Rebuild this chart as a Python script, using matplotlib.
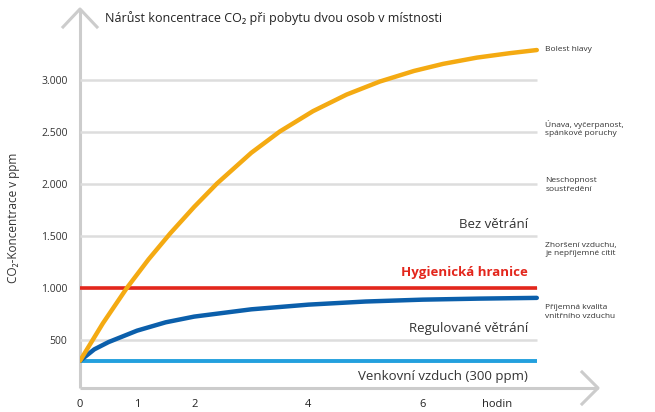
import matplotlib
matplotlib.use('Agg')
import matplotlib.pyplot as plt

plt.rcParams['font.family'] = ['Open Sans', 'DejaVu Sans']

# ── Data ─────────────────────────────────────────────────────────────────────
t_bez = [0, 0.4, 0.82, 1.2, 1.58, 2.0, 2.4, 3.0, 3.5, 4.08, 4.67, 5.25, 5.85, 6.36, 6.95, 7.53, 8.0]
c_bez = [300, 660, 1000, 1275, 1525, 1780, 2005, 2300, 2505, 2700, 2860, 2985, 3087, 3155, 3215, 3258, 3288]

t_reg = [0, 0.25, 0.5, 1.0, 1.5, 2.0, 3.0, 4.0, 5.0, 6.0, 7.0, 8.0]
c_reg = [300, 410, 480, 590, 670, 725, 795, 840, 870, 888, 898, 905]

t_range = [0, 8]
hyg_limit = 1000
outdoor = 300

yticks = [500, 1000, 1500, 2000, 2500, 3000]
ytick_labels = ['500', '1.000', '1.500', '2.000', '2.500', '3.000']
xticks = [0, 1, 2, 4, 6, 7.3]
xtick_labels = ['0', '1', '2', '4', '6', 'hodin']

effects = ['Bolest hlavy',
           'Únava, vyčerpanost,\nspánkové poruchy',
           'Neschopnost\nsoustředění',
           'Zhoršení vzduchu,\nje nepříjemné cítit',
           'Příjemná kvalita\nvnitřního vzduchu']
effect_levels = [3290, 2530, 1990, 1370, 770]

# ── Figure ───────────────────────────────────────────────────────────────────
fig = plt.figure(figsize=(6.55, 4.12), dpi=100)

# decorative axis lines with chevron arrows (pixel coordinates)
deco = fig.add_axes([0, 0, 1, 1], zorder=0)
deco.set_xlim(0, 655)
deco.set_ylim(412, 0)
deco.axis('off')
ax_col = '#cccccc'
deco.plot([80, 80], [388, 9], color=ax_col, lw=2.2, solid_capstyle='butt')
deco.plot([63, 80, 97], [27, 9, 27], color=ax_col, lw=2.2)
deco.plot([80, 598], [388, 388], color=ax_col, lw=2.2, solid_capstyle='butt')
deco.plot([582, 598, 582], [372, 388, 404], color=ax_col, lw=2.2)

ax = fig.add_axes([80/655, 24/412, 520/655, 383/412], zorder=1)
ax.patch.set_alpha(0)
ax.set_xlim(0, 520/57.1)
ax.set_ylim(38.5, 3721)
for s in ax.spines.values():
    s.set_visible(False)

ax.hlines(yticks, t_range[0], t_range[1], color='#dddddd', lw=1.8, zorder=1)
ax.hlines(hyg_limit, t_range[0], t_range[1], color='#e3261c', lw=2.6, zorder=2)
ax.hlines(outdoor, t_range[0], t_range[1], color='#23a0de', lw=2.8, zorder=2)
ax.plot(t_reg, c_reg, color='#0b5fab', lw=3.2, solid_capstyle='round',
        solid_joinstyle='round', zorder=3)
ax.plot(t_bez, c_bez, color='#f4aa12', lw=3.2, solid_capstyle='round',
        solid_joinstyle='round', zorder=4)

ax.set_yticks(yticks)
ax.set_yticklabels(ytick_labels, fontsize=7.5, color='#333333')
ax.set_xticks(xticks)
ax.set_xticklabels(xtick_labels, fontsize=8, color='#222222')
ax.tick_params(length=0, pad=9)
ax.tick_params(axis='x', pad=8)

# in-plot series labels
ax.text(7.85, 1615, 'Bez větrání', ha='right', va='center', fontsize=9.5, color='#333333')
ax.text(7.85, 1145, 'Hygienická hranice', ha='right', va='center', fontsize=9.5,
        color='#e3261c', fontweight='bold')
ax.text(7.85, 615, 'Regulované větrání', ha='right', va='center', fontsize=9.5, color='#333333')
ax.text(7.85, 148, 'Venkovní vzduch (300 ppm)', ha='right', va='center', fontsize=9.5, color='#333333')

# right-hand effects
for txt, lvl in zip(effects, effect_levels):
    ax.text(8.15, lvl, txt, ha='left', va='center', fontsize=6, color='#333333',
            linespacing=1.25)

fig.text(105/655, 1 - 18/412, 'Nárůst koncentrace CO₂ při pobytu dvou osob v místnosti',
         ha='left', va='center', fontsize=9, color='#222222')
fig.text(14/655, 1 - 218/412, 'CO₂-Koncentrace v ppm', rotation=90,
         ha='center', va='center', fontsize=8.5, color='#333333')

fig.savefig('out.png', dpi=100)
